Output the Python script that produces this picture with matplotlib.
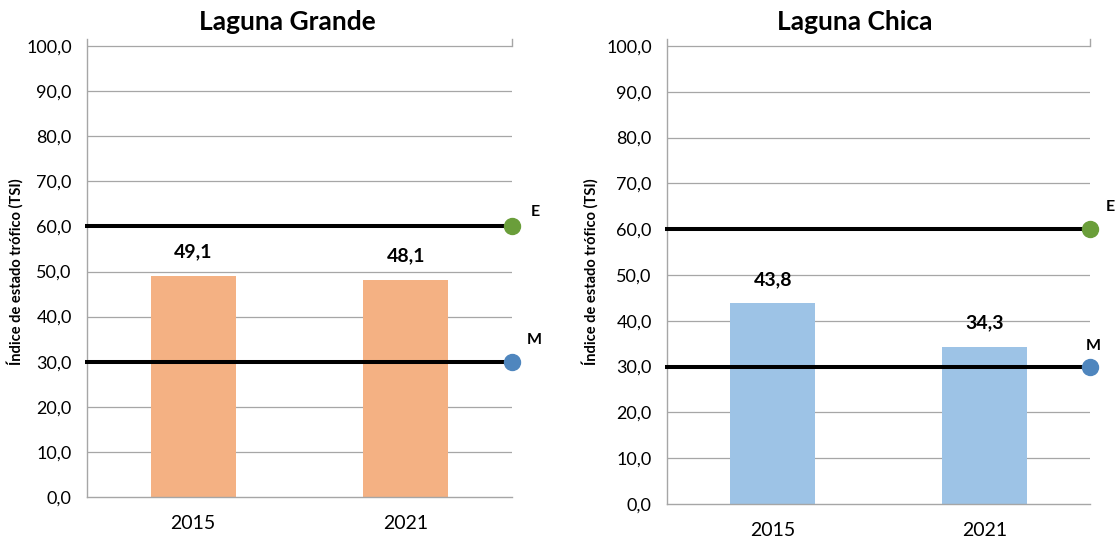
import matplotlib
matplotlib.use("Agg")
import matplotlib.pyplot as plt
from matplotlib.ticker import FuncFormatter, MultipleLocator

plt.rcParams['font.family'] = ['Lato', 'DejaVu Sans']

# Data
years = ["2015", "2021"]
grande_tsi = [49.1, 48.1]
chica_tsi = [43.8, 34.3]
eutrophic_limit = 60.0
mesotrophic_limit = 30.0
titles = ["Laguna Grande", "Laguna Chica"]
ylabel = "Índice de estado trófico (TSI)"

fig = plt.figure(figsize=(11.16, 5.41), dpi=100)
W, H = 1116, 541


def px_axes(x0, x1, y_zero, y_hundred):
    per = (y_zero - y_hundred) / 100.0
    top = y_hundred - 1.5 * per
    return fig.add_axes([x0 / W, (H - y_zero) / H, (x1 - x0) / W, (y_zero - top) / H])


ax_l = px_axes(87, 512, 497, 46)
ax_r = px_axes(667, 1090, 504, 46)

grid_c = "#A6A6A6"
panels = [
    (ax_l, grande_tsi, "#F4B183", 24, titles[0], 287, [(23, 14), (22, 22)], 15),
    (ax_r, chica_tsi, "#9DC3E6", 24, titles[1], 855, [(20, 22), (3, 21)], 590),
]

for ax, vals, color, lab_off, title, title_x, em_off, ylab_x in panels:
    x = list(range(len(years)))
    ax.set_xlim(-0.5, 1.5)
    ax.set_ylim(0, 101.5)
    ax.yaxis.set_major_locator(MultipleLocator(10))
    ax.yaxis.set_major_formatter(FuncFormatter(lambda v, p: f"{v:.1f}".replace(".", ",") if v <= 100 else ""))
    for y in range(10, 101, 10):
        ax.axhline(y, color=grid_c, lw=0.9, zorder=0)
    ax.bar(x, vals, width=0.4, color=color, zorder=2)
    for xi, v in zip(x, vals):
        ax.annotate(f"{v:.1f}".replace(".", ","), (xi, v), xytext=(0, lab_off),
                    textcoords="offset pixels", ha="center", va="center",
                    fontsize=14, fontweight="bold", color="#000000")

    # Trophic thresholds
    for lim, mc, lbl, off in [(eutrophic_limit, "#6A9E3A", "E", em_off[0]),
                              (mesotrophic_limit, "#4F86BE", "M", em_off[1])]:
        ax.plot([-0.51, 1.5], [lim, lim], color="black", lw=2.9, zorder=3,
                solid_capstyle="butt", clip_on=False)
        ax.plot([1.5], [lim], marker="o", ms=11.5, color=mc, mec=mc, zorder=4, clip_on=False)
        ax.annotate(lbl, (1.5, lim), xytext=off, textcoords="offset pixels",
                    ha="center", va="center", fontsize=11.5, fontweight="bold")

    for s in ["top", "right"]:
        ax.spines[s].set_visible(False)
    for s in ["left", "bottom"]:
        ax.spines[s].set_color(grid_c)
        ax.spines[s].set_linewidth(1.0)
    ax.plot([1.5, 1.5], [100, 101.5], color=grid_c, lw=1.0, clip_on=False)

    ax.set_xticks(x)
    ax.set_xticklabels(years)
    ax.tick_params(axis="x", length=0, pad=13, labelsize=14)
    ax.tick_params(axis="y", length=0, pad=11, labelsize=13)

    fig.text(title_x / W, (H - 22) / H, title, ha="center", va="center",
             fontsize=19, fontweight="bold")
    fig.text(ylab_x / W, (H - 272) / H, ylabel, rotation=90, ha="center",
             va="center", fontsize=10.5, fontweight="bold")

fig.savefig("out.png", dpi=100)
